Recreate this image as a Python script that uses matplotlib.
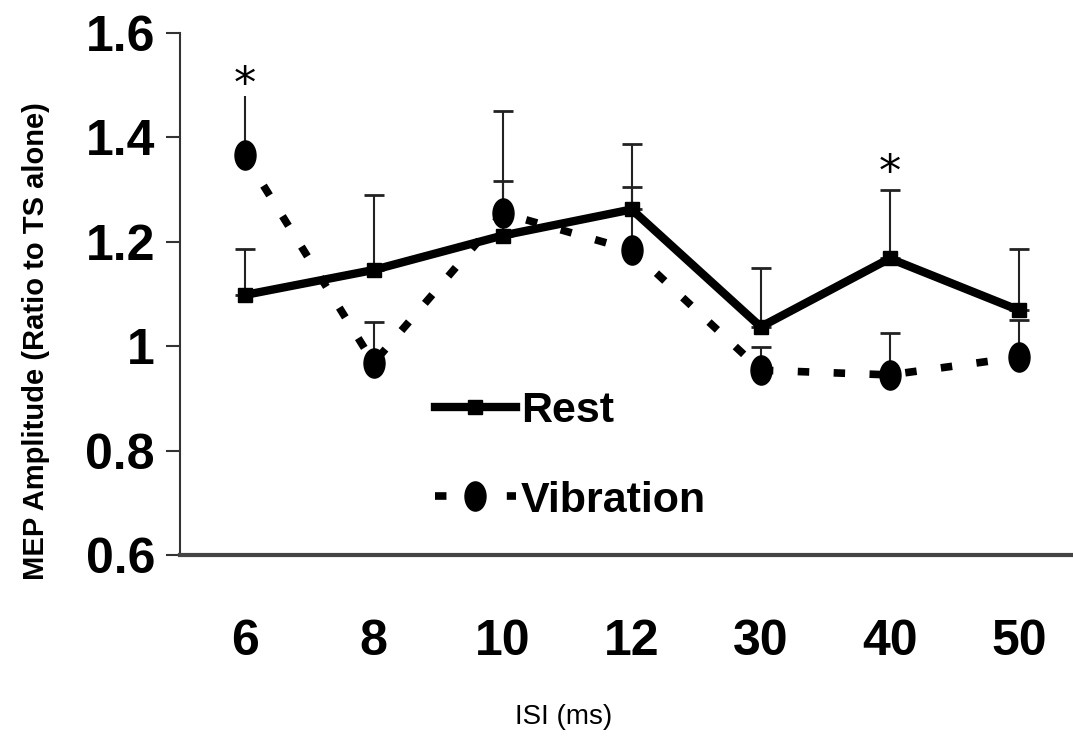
import numpy as np
from matplotlib import pyplot as plt
from matplotlib.path import Path
from matplotlib.transforms import Affine2D

# ISI categories and group means / upper error bars
isi_labels = ["6", "8", "10", "12", "30", "40", "50"]
rest_mean = [1.098, 1.146, 1.212, 1.262, 1.037, 1.168, 1.069]
rest_err = [0.088, 0.144, 0.104, 0.125, 0.113, 0.132, 0.117]
vib_mean = [1.366, 0.968, 1.255, 1.184, 0.954, 0.945, 0.979]
vib_err = [0.114, 0.078, 0.195, 0.121, 0.044, 0.080, 0.071]
star_idx = [0, 5]
star_y = [1.50, 1.33]

plt.rcParams["font.family"] = ["Liberation Sans", "DejaVu Sans"]

fig = plt.figure(figsize=(10.73, 7.38), dpi=100)
ax = fig.add_axes([0.1678, 0.248, 0.8322, 0.7073])

x = np.arange(len(isi_labels))
ellipse = Path.unit_circle().transformed(Affine2D().scale(0.72, 1.0))

# error bars (upper only)
ax.errorbar(x, rest_mean, yerr=[np.zeros(len(x)), rest_err], fmt="none",
            ecolor="#222222", elinewidth=1.5, capsize=7, capthick=2, zorder=1)
ax.errorbar(x[1:], vib_mean[1:], yerr=[np.zeros(len(x) - 1), vib_err[1:]], fmt="none",
            ecolor="#222222", elinewidth=1.5, capsize=7, capthick=2, zorder=1)
ax.errorbar(x[:1], vib_mean[:1], yerr=[[0], vib_err[:1]], fmt="none",
            ecolor="#222222", elinewidth=1.5, capsize=0, zorder=1)

ax.plot(x, rest_mean, color="black", lw=6, marker="s", markersize=10,
        label="Rest", zorder=3)
ax.plot(x, vib_mean, color="black", lw=5.5, linestyle=(0, (1.5, 3.2)),
        marker=ellipse, markersize=21, label="Vibration", zorder=2)

for i, yv in zip(star_idx, star_y):
    ax.text(x[i], yv, "*", ha="center", va="center", fontsize=32,
            family="DejaVu Sans")

ax.set_xlim(-0.5, 6.42)
ax.set_ylim(0.6, 1.6)
ax.set_yticks([0.6, 0.8, 1.0, 1.2, 1.4, 1.6])
ax.set_yticklabels(["0.6", "0.8", "1", "1.2", "1.4", "1.6"])
ax.set_xticks(x)
ax.set_xticklabels(isi_labels)
ax.tick_params(axis="y", direction="out", length=10, width=1.5, color="#333333",
               labelsize=36, pad=8)
ax.tick_params(axis="x", length=0, labelsize=36, pad=46)
for lab in ax.get_xticklabels() + ax.get_yticklabels():
    lab.set_fontweight("bold")

for s in ["top", "right"]:
    ax.spines[s].set_visible(False)
ax.spines["left"].set_color("#333333")
ax.spines["left"].set_linewidth(1.5)
ax.spines["bottom"].set_color("#444444")
ax.spines["bottom"].set_linewidth(3)

ax.set_ylabel("MEP Amplitude (Ratio to TS alone)", fontsize=21, fontweight="bold")
ax.yaxis.set_label_coords(-0.146, 0.41)
ax.set_xlabel("ISI (ms)", fontsize=20)
ax.xaxis.set_label_coords(0.43, -0.285)

ax.legend(loc="center left", bbox_to_anchor=(0.285, 0.19), frameon=False,
          prop={"size": 31, "weight": "bold"}, handlelength=1.9,
          handletextpad=0.1, labelspacing=1.15, borderpad=0, borderaxespad=0)

fig.savefig("out.png", dpi=100)
